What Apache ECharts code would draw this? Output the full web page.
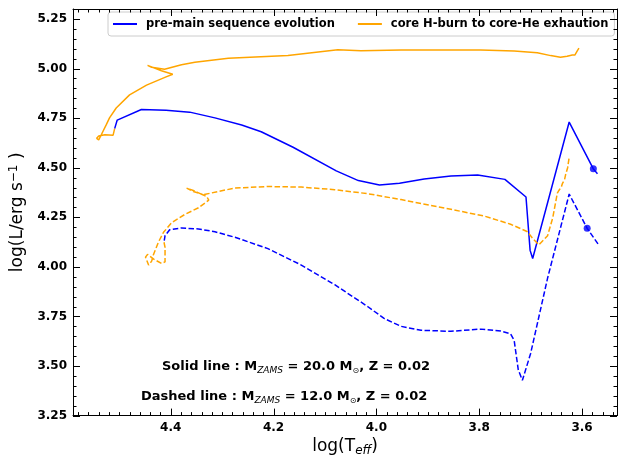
<!DOCTYPE html>
<html>
<head>
<meta charset="utf-8">
<script src="https://cdn.jsdelivr.net/npm/echarts@6/dist/echarts.min.js"></script>
<style>
html, body { margin: 0; padding: 0; background: #fff; }
#chart { width: 621px; height: 462px; }
</style>
</head>
<body>
<div id="chart"></div>
<script>
// tracks as [log Teff, log L]
const pms20 = [
    [3.570, 4.469], [3.578, 4.494], [3.625, 4.730], [3.696, 4.042], [3.701, 4.083],
    [3.709, 4.352], [3.750, 4.441], [3.803, 4.463], [3.855, 4.458], [3.907, 4.443],
    [3.955, 4.421], [3.994, 4.413], [4.035, 4.435], [4.078, 4.484], [4.162, 4.603],
    [4.224, 4.681], [4.262, 4.715], [4.314, 4.751], [4.363, 4.780], [4.409, 4.790],
    [4.457, 4.793], [4.504, 4.740], [4.509, 4.697]
];
const ms20 = [
    [4.509, 4.697], [4.512, 4.664], [4.528, 4.666], [4.540, 4.660], [4.544, 4.648],
    [4.540, 4.640], [4.535, 4.666], [4.525, 4.718], [4.519, 4.751], [4.506, 4.801],
    [4.480, 4.867], [4.447, 4.916], [4.409, 4.958], [4.396, 4.971], [4.418, 4.989],
    [4.445, 5.016], [4.437, 5.006], [4.412, 4.996], [4.379, 5.019], [4.353, 5.032],
    [4.288, 5.052], [4.172, 5.065], [4.075, 5.095], [4.030, 5.090], [3.952, 5.093],
    [3.797, 5.093], [3.732, 5.088], [3.687, 5.079], [3.661, 5.065], [3.642, 5.057],
    [3.629, 5.062], [3.619, 5.068], [3.614, 5.068], [3.609, 5.090], [3.606, 5.103]
];
const pms12 = [
    [3.569, 4.116], [3.590, 4.194], [3.625, 4.367], [3.667, 3.943], [3.700, 3.563],
    [3.716, 3.428], [3.724, 3.481], [3.732, 3.629], [3.739, 3.662], [3.758, 3.676],
    [3.797, 3.686], [3.855, 3.675], [3.913, 3.680], [3.952, 3.700], [3.985, 3.740],
    [4.017, 3.800], [4.081, 3.910], [4.146, 4.009], [4.211, 4.092], [4.275, 4.149],
    [4.314, 4.177], [4.346, 4.191], [4.379, 4.196], [4.402, 4.187], [4.411, 4.157],
    [4.413, 4.124]
];
const ms12 = [
    [4.413, 4.124], [4.411, 4.098], [4.411, 4.025], [4.418, 4.017], [4.433, 4.039],
    [4.445, 4.063], [4.449, 4.049], [4.443, 4.009], [4.437, 4.029], [4.434, 4.058],
    [4.424, 4.124], [4.414, 4.174], [4.398, 4.223], [4.372, 4.265], [4.346, 4.298],
    [4.326, 4.336], [4.330, 4.355], [4.343, 4.370], [4.356, 4.380], [4.369, 4.397],
    [4.372, 4.405], [4.356, 4.385], [4.337, 4.363], [4.308, 4.380], [4.275, 4.397],
    [4.211, 4.405], [4.146, 4.402], [4.081, 4.389], [4.017, 4.369], [3.952, 4.339],
    [3.855, 4.290], [3.790, 4.256], [3.739, 4.215], [3.706, 4.177], [3.696, 4.143],
    [3.684, 4.111], [3.667, 4.157], [3.657, 4.247], [3.648, 4.372], [3.645, 4.385],
    [3.640, 4.405], [3.638, 4.421], [3.634, 4.440], [3.632, 4.464], [3.628, 4.500],
    [3.625, 4.553]
];
const startPoints = [[3.578, 4.494], [3.590, 4.194]];

const xTicks = [3.6, 3.8, 4.0, 4.2, 4.4];
const yTicks = [3.25, 3.50, 3.75, 4.00, 4.25, 4.50, 4.75, 5.00, 5.25];
const legendNames = ['pre-main sequence evolution', 'core H-burn to core-He exhaution'];

const X_MIN = 3.532, X_MAX = 4.590, Y_MIN = 3.25, Y_MAX = 5.30;
const BLUE = '#0000ff', ORANGE = '#ffa500';
const FONT = 'DejaVu Sans';

function steps(from, to, step) {
    const out = [];
    for (let v = from; v <= to + 1e-9; v += step) out.push(+v.toFixed(3));
    return out;
}
const xMinor = steps(3.54, 4.58, 0.02);
const yMinor = steps(3.25, 5.30, 0.05);

function axis(pos, labels, dig) {
    const isX = pos === 'bottom' || pos === 'top';
    return {
        type: 'value',
        position: pos,
        inverse: isX,
        min: isX ? X_MIN : Y_MIN,
        max: isX ? X_MAX : Y_MAX,
        axisLine: { show: true, onZero: false, lineStyle: { color: '#000', width: 1 } },
        axisTick: { show: false },
        axisLabel: { show: labels, customValues: isX ? xTicks : yTicks, margin: 6,
            formatter: v => v.toFixed(dig),
            fontFamily: FONT, fontWeight: 'bold', fontSize: 12, color: '#000' },
        splitLine: { show: false }
    };
}

const xAxes = [axis('bottom', true, 1), axis('top', false, 1)];
Object.assign(xAxes[0], {
    name: 'log(T{sub|eff})', nameLocation: 'middle', nameGap: 20,
    nameTextStyle: { fontFamily: FONT, fontSize: 17, color: '#000',
        rich: { sub: { fontFamily: FONT, fontSize: 12, fontStyle: 'italic', color: '#000',
            verticalAlign: 'bottom', padding: [8, 0, 0, 0] } } }
});
const yAxes = [axis('left', true, 2), axis('right', false, 2)];
Object.assign(yAxes[0], {
    name: 'log(L/erg s{sup|\u22121} )', nameLocation: 'middle', nameGap: 42, nameRotate: 90,
    nameTextStyle: { fontFamily: FONT, fontSize: 17, color: '#000',
        rich: { sup: { fontFamily: FONT, fontSize: 12, color: '#000',
            verticalAlign: 'top', padding: [0, 0, 8, 0] } } }
});

// inward ticks on all four sides, placed through the axes' own scales
function tickMarks(values, dim, len) {
    const pts = values.map(v => dim === 'x' ? [v, Y_MIN] : [X_MIN, v]);
    return {
        type: 'custom', silent: true, clip: false, z: 4,
        xAxisIndex: 0, yAxisIndex: 0, data: pts,
        renderItem: function (params, api) {
            const st = { stroke: '#000', lineWidth: 1 };
            if (dim === 'x') {
                const v = api.value(0);
                const a = api.coord([v, Y_MIN]), b = api.coord([v, Y_MAX]);
                const x = Math.round(a[0]) + 0.5;
                return { type: 'group', children: [
                    { type: 'line', shape: { x1: x, y1: a[1], x2: x, y2: a[1] - len }, style: st },
                    { type: 'line', shape: { x1: x, y1: b[1], x2: x, y2: b[1] + len }, style: st }
                ] };
            }
            const v = api.value(1);
            const a = api.coord([X_MAX, v]), b = api.coord([X_MIN, v]);
            const y = Math.round(a[1]) + 0.5;
            return { type: 'group', children: [
                { type: 'line', shape: { x1: a[0], y1: y, x2: a[0] + len, y2: y }, style: st },
                { type: 'line', shape: { x1: b[0], y1: y, x2: b[0] - len, y2: y }, style: st }
            ] };
        }
    };
}

function track(name, data, color, dashed) {
    return {
        name: name, type: 'line', data: data, symbol: 'none', smooth: false,
        xAxisIndex: 0, yAxisIndex: 0,
        lineStyle: { color: color, width: 1.5, type: dashed ? [5.5, 2.4] : 'solid' },
        itemStyle: { color: color }
    };
}

const rich = {
    b: { fontFamily: FONT, fontWeight: 'bold', fontSize: 13, fill: '#000' },
    sub: { fontFamily: FONT, fontStyle: 'italic', fontSize: 9, fill: '#000', padding: [7, 0, 0, 0] },
    sun: { fontFamily: FONT, fontSize: 8, fill: '#000', padding: [7, 0, 0, 0] }
};

const chart = echarts.init(document.getElementById('chart'));
chart.setOption({
    animation: false,
    grid: { left: 71, right: 4, top: 9, bottom: 39 },
    xAxis: xAxes,
    yAxis: yAxes,
    legend: {
        data: legendNames, left: 108, top: 12, padding: [5, 6, 5, 5], itemGap: 23,
        icon: 'rect', itemWidth: 24, itemHeight: 2,
        borderColor: '#cccccc', borderWidth: 1, borderRadius: 3,
        backgroundColor: 'rgba(255,255,255,0.8)',
        textStyle: { fontFamily: FONT, fontWeight: 'bold', fontSize: 11.5, color: '#000',
            padding: [0, 0, 0, 4], lineHeight: 14 }
    },
    series: [
        track(legendNames[0], pms20, BLUE, false),
        track(legendNames[1], ms20, ORANGE, false),
        track('pms12', pms12, BLUE, true),
        track('ms12', ms12, ORANGE, true),
        { name: 'start', type: 'scatter', data: startPoints, symbol: 'circle', symbolSize: 7,
          itemStyle: { color: BLUE }, z: 5 },
        tickMarks(xTicks, 'x', 7),
        tickMarks(xMinor, 'x', 3.5),
        tickMarks(yTicks, 'y', 7),
        tickMarks(yMinor, 'y', 3.5)
    ],
    graphic: [
        { type: 'text', x: 162, y: 367, style: {
            text: '{b|Solid line : M}{sub|ZAMS}{b| = 20.0 M}{sun|\u2299}{b|, Z = 0.02}',
            rich: rich, verticalAlign: 'middle' } },
        { type: 'text', x: 141, y: 397, style: {
            text: '{b|Dashed line : M}{sub|ZAMS}{b| = 12.0 M}{sun|\u2299}{b|, Z = 0.02}',
            rich: rich, verticalAlign: 'middle' } }
    ]
});
</script>
</body>
</html>
